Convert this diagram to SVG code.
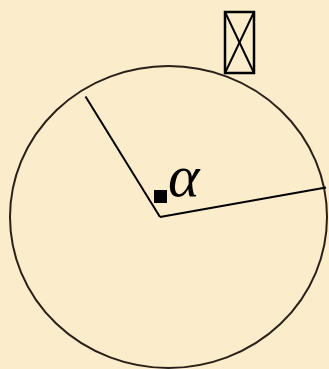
<svg xmlns="http://www.w3.org/2000/svg" width="329" height="369" viewBox="0 0 329 369">
<style>
.ln{stroke:#000;stroke-width:2;fill:none}
</style>
<rect width="329" height="369" fill="#FBECCC"/>
<g id="circle"><ellipse cx="168.5" cy="217" rx="158.5" ry="151" fill="none" stroke="#2a2018" stroke-width="2"/></g>
<g id="connectors">
<line class="ln" x1="160" y1="217" x2="85.5" y2="96.5"/>
<line class="ln" x1="160" y1="217" x2="326" y2="187.5"/>
</g>
<g id="angle">
<rect x="154" y="190" width="13" height="13" fill="#000"/>
<text x="168" y="196" font-family="Liberation Serif, serif" font-style="italic" font-size="60" fill="#000">α</text>
</g>
<g id="box">
<rect x="225" y="12" width="29" height="61" fill="none" stroke="#000" stroke-width="2.5"/>
<line class="ln" x1="225" y1="12" x2="254" y2="73"/>
<line class="ln" x1="254" y1="12" x2="225" y2="73"/>
</g>
</svg>
